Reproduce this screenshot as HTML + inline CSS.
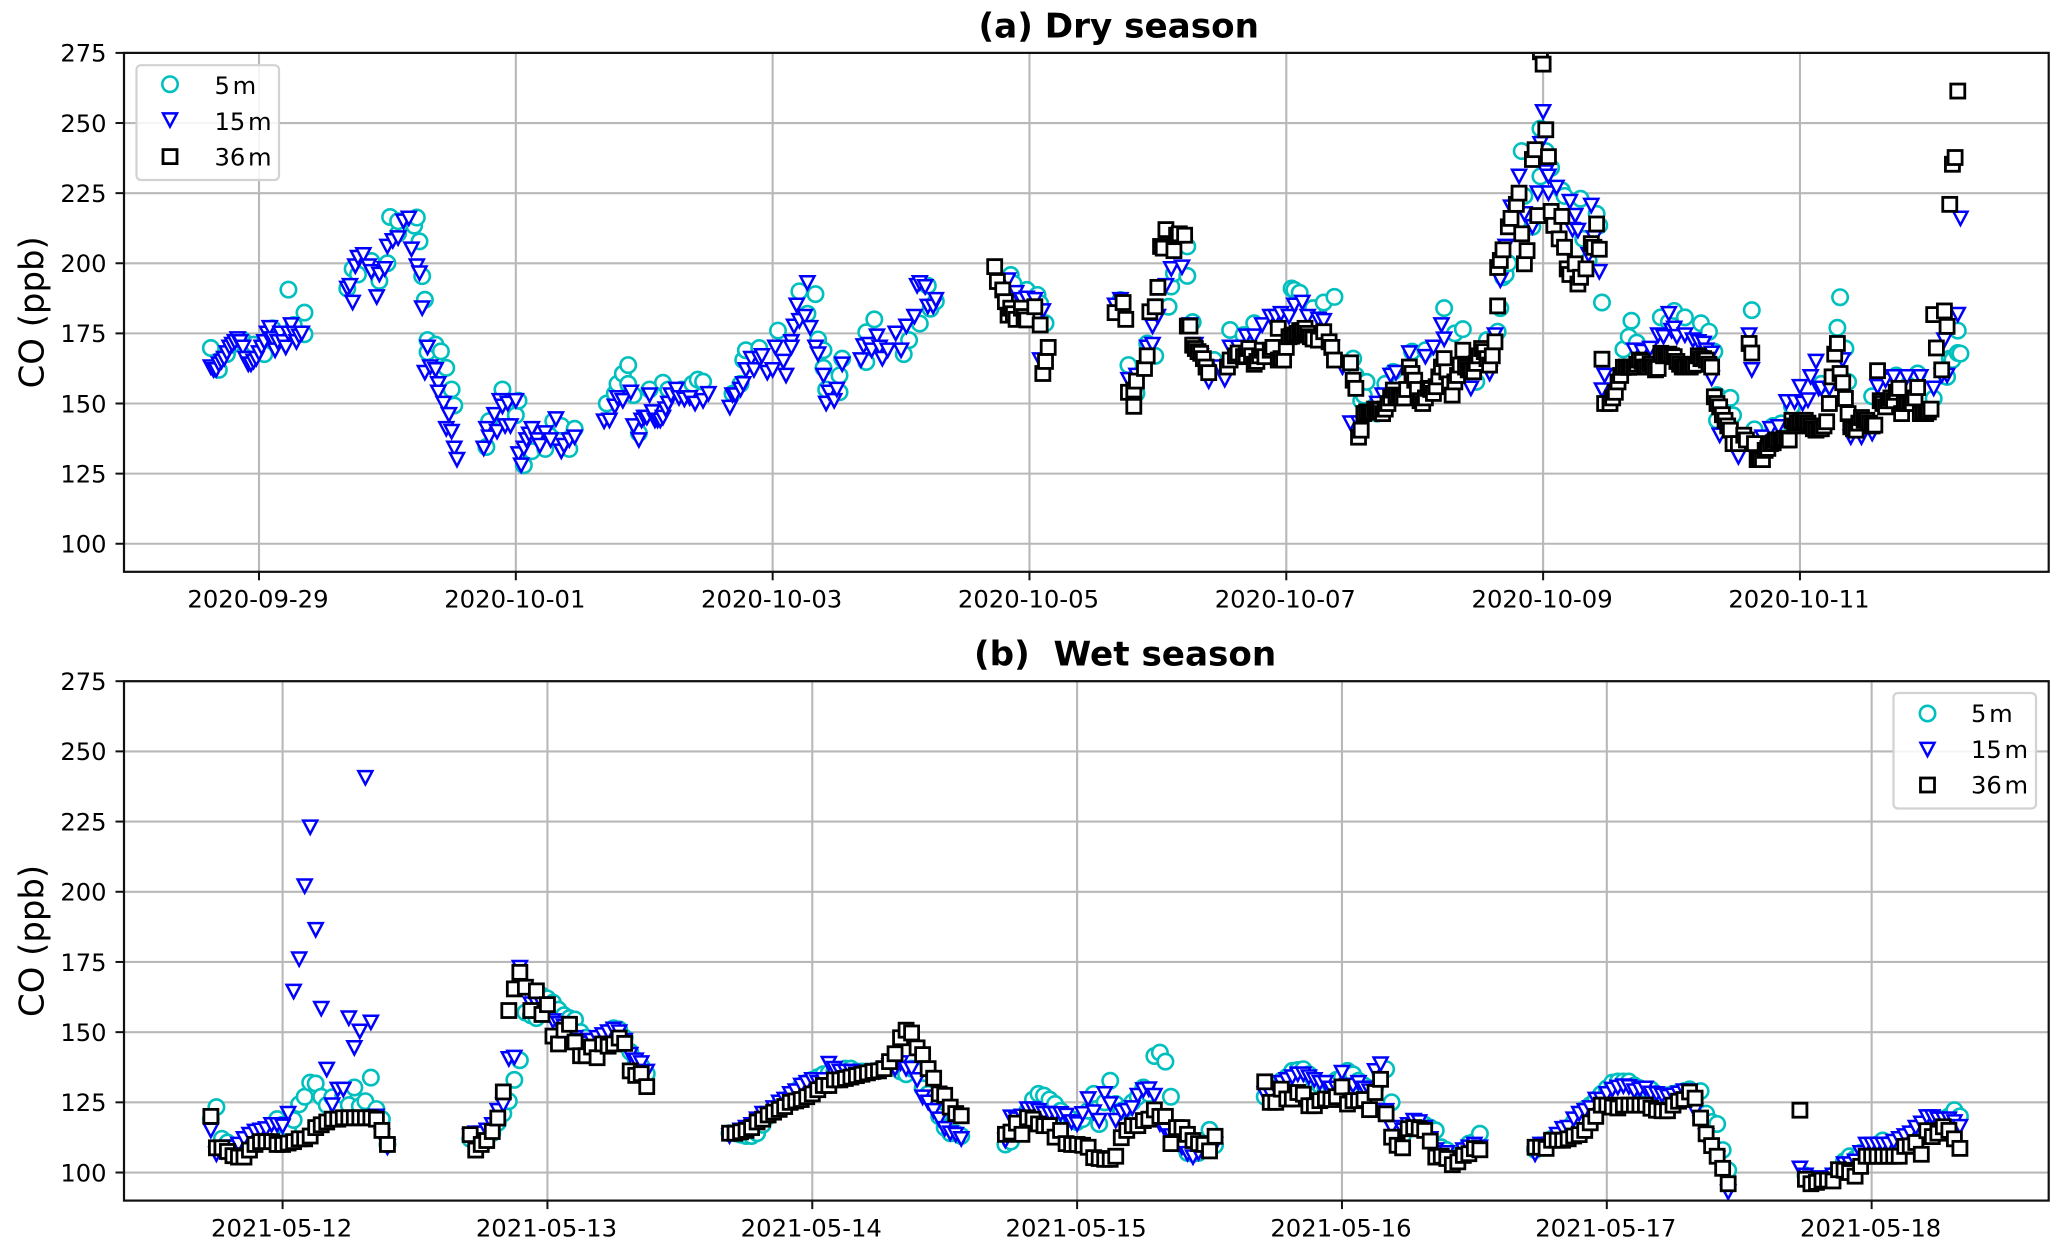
<!DOCTYPE html>
<html lang="en">
<head>
<meta charset="utf-8">
<title>CO at three heights: dry and wet season</title>
<style>
html,body{margin:0;padding:0;background:#fff;width:2067px;height:1248px;overflow:hidden}
svg{display:block}
text{font-family:"DejaVu Sans","Liberation Sans",sans-serif;fill:#000}
</style>
</head>
<body>
<svg id="chart" xmlns="http://www.w3.org/2000/svg" width="2067" height="1248" viewBox="0 0 2067 1248">
<defs>
<clipPath id="clip-dry"><rect x="124" y="52.9" width="1924.7" height="518.9"/></clipPath>
<clipPath id="clip-wet"><rect x="124" y="681.2" width="1924.7" height="519.4"/></clipPath>
</defs>
<g id="panel-dry"></g>
<g id="panel-wet"></g>
</svg>
<script>
// ---------- shared axis data ----------
const yTickValues = [100,125,150,175,200,225,250,275];
const yMin = 90;
const yMax = 275;

// ---------- dry season: hours after 2020-09-29 00:00 and CO (ppb) ----------
const dryTickHours = [0,48,96,144,192,240,288];
const dryTickLabels = ['2020-09-29','2020-10-01','2020-10-03','2020-10-05','2020-10-07','2020-10-09','2020-10-11'];

const dry5Hours = [
-9,-7.5,-6,-5,-3,-1,1,2.5,4,5.5,6.5,8.5,8.5,
16.5,17.5,18.5,21,22.5,24,24.5,26,26,29,29.5,30,30.5,31,31.5,33,34,35,36,36.5,31.5,34,
42.5,43,45.5,46,48,48.5,49.5,51,53.5,55,56.5,59,58,
65,66.5,67,68,69,69,70,71,73,75.5,76.5,79,81,82,83,88.5,90,90.5,91,93.5,97,101,104,102.5,104.5,105.5,105.5,106,108.5,109,108.5,113.5,113.5,115,120.5,121.5,123.5,125,126.5,125.5,
140.5,141,143.5,145.5,147,146,
161,162.5,164,166,167.5,170,170.5,171,173.5,173.5,
174.5,178.5,181.5,184,186,193,193.5,194.5,197,199,201,204.5,205,206.5,207,206,209,210.5,212,215.5,218,221.5,223.5,225,227.5,229.5,231.5,232,233,
236,239.5,241.5,239.5,240.5,236.5,244,247,250,250.5,247.5,248.5,232.5,233.5,238,243.5,251,
255,256,256.5,257.5,262,264.5,266.5,263.5,269.5,271,272,272.5,275,275.5,272.5,279.5,279,295.5,295,296.5,297,301.5,306,310,313,315.5,316.5,317.5,284.5,283,292,286.5,
318,317.5,316
];
const dry5Values = [
169.8,162,167.6,171,172.6,171,167.6,176.8,174,190.6,178,182.4,174.7,
191,198,196,200.8,193.7,200,216.5,210.6,215,213.4,216.3,207.8,195.4,187,172.6,171,168.6,162.7,155,149.3,168.3,162,
134.5,143.7,155,145.8,145.8,151,128,133,133.8,143.7,142,141,133.8,
150,153.5,157,160.6,163.7,157,153,139.5,155,157.4,155,155,157,158.5,157.8,153.5,157,165.5,169,169.8,176,190,189,182,172.8,169,162.7,155,154,166,160,164.8,175.4,180,167.6,172.6,178.5,192,186.4,183.8,
195.8,192.8,190.5,188.7,178.6,185.7,
186.9,163.7,153.6,171.4,167,184.5,191.7,196.4,195.5,206,
179,165.5,176.2,174.4,178.6,191,190.5,189.5,184,186,188,166,160,152.8,157.7,151,146.4,157,161.3,168.5,169,184,175,176.5,157.7,172.6,175.6,184,196,
240,248,234,231,240,224,224,223,217.6,213.5,208.7,201,195,200,213,226,186,
169.3,173.8,179.5,171.7,180.7,183,180.7,179,178.6,175.6,168.5,153,152,145.8,144,140.8,183.3,187.9,177,169.6,157.7,152.6,160,160.7,151.8,159.5,165.5,168,142.9,142,157,149,
167.8,176,166
];

const dry15Hours = [
-9,-8,-7,-6,-5,-4,-3,-2,-1,0,1,2,3,4,5,6,7,8,
-8.5,-7.5,-6.5,-5.5,-4.5,-3.5,-2.5,-1.5,-0.5,0.5,1.5,2.5,3.5,4.5,5.5,6.5,7.5,
16.5,17,17.5,18,18.5,19.5,20.5,21,22,22.5,23.5,24,25,26,27,28,28.5,29.5,30,30.5,31.5,31,32,33,33.5,33.5,34.5,35.5,35,36,36.5,37,
42,42.5,43,44,44.5,45,45.5,46,46.5,47,48,48.5,49,49.5,50,50.5,51,52,52.5,53.5,54.5,55.5,56.5,57,58,59,
64.5,65.5,66.5,67,68,69.5,70,71,71.5,72,73,74,75,76,77,78,78.5,79.5,80.5,81.5,83,84,
72.5,73.5,74.5,75.5,76.5,
88,88.5,89,90,90.5,91,92,92.5,93.5,94,95,96,96.5,98,98.5,99.5,99.5,100,100.5,101,102,102.5,103,104,104.5,105.5,106,106.5,107.5,108,109,112.5,113,114,114.5,115.5,116,116.5,117.5,119,120,121,122.5,123,123.5,124.5,125,126,126.5,
140,141.5,142.5,143.5,145,146.5,146,
160,161,162.5,164,166,167,168,169.5,170.5,172.5,167,
174,175,176,177.5,179.5,180.5,181.5,183,184.5,186,187.5,189,190,191,192.5,193.5,195,196,198,199,200.5,202.5,204,205.5,207,209,210,211.5,212.5,215,216.5,218,219.5,221,221.5,226.5,230,231,
232,233,234,235.5,236.5,238,239,239.5,240,240.5,241,241,242.5,245,246,245.5,246.5,249,248.5,250.5,249.5,
251.5,251,257,258.5,260,261.5,262.5,263.5,264,264.5,265,266.5,268,269,270,270.5,271.5,271.5,276.5,273,281,282.5,284,285.5,287,288,288.5,289.5,290,291,291.5,292,293.5,296,297.5,299.5,301.5,302.5,304,305.5,308,310.5,313,278.5,279,
315,315.5,317.5,318,314.5
];
const dry15Values = [
163,162,165,168,171,173,170,164,165,168,172,177,169,175,170,178,172,175,
162,164,166,170,172,172,166,164,166,170,175,173,172,172,175,175,174,
191,192,186,199,202,203,199,197,188,196,198,206,208,209,215,216,205,199,196.5,184,170,161,163,162,157,154,150,146,141,140,134,130,
134,141,138,146,140,151,149,142,150,142,151,132,128,134,137,139,141,137,135,139.5,137,144.5,133,135,137,138,
143.7,144,149,152,151,154,142,137,144,145,153,144,144,148,153,155,152,151.5,152,150,151,153.5,
145,147,144,145,150,
148.6,153,153,155,157,162,166,162,166,167,161,162,170,165,160,172,170,177.5,185,179.5,181,193,177,170,167.6,160,150,154,151,155,164,165.5,170.5,171,169,174,170,166,169,175,169,177.5,181,192,193,191.6,184.6,184.6,187,
194,189.5,187,187.5,187,183,165.5,
185,187,158.5,160,170,177.5,181,192,198,198.6,171,
178,171,167,158,163,158.5,170,170,174,174,178,181,181,182,181,185,186,181,180,179.5,170,163,143,143,146,150,153,160,161,168,155,166.7,170,178,172.9,155.4,160.7,174.4,
194,206,220,231,217.6,213,225,242.6,254,232.5,231,225,227,222,217,212,211.7,220.6,203,197,209,
160,154.8,169,168.5,169.6,174.4,173.8,182,176,176.8,173.8,174.4,172.6,172,171.4,169,167.9,159,131,138.7,138,141,141.7,150.6,150.6,156,150,151.2,159.5,165,155.4,155.4,155.4,165.5,138,138,139.3,156,158.3,159.5,159.5,159.5,155.4,174.4,162,
172.6,160,181.7,216,160
];

const dry36Hours = [
137.5,138,139,139.5,140.5,140,141,141.5,142.5,143,143.5,145,146,147.5,147,146.5,
160,161.5,162,166.5,167.5,168,162.5,164,163.5,165.5,166,163.5,169,169.5,168.5,171,171.5,172,173,
173.5,174,174.5,175,176,176.5,177.5,181,181.5,182.5,183,184,185,186,187.5,188,189,190.5,190.5,191.5,192.5,193.5,194.5,195.5,196.5,198,
175.5,177,184.5,185.5,186.5,187,189.5,191,192,193,194,195,196,197,
199,200,200.5,201,204,204.5,205,206,205.5,206.5,208,209,210,212,213,214,215,215.5,216,217,217.5,218.5,219.5,220.5,221.5,222,223,223.5,224.5,225,225.5,227,227.5,228.5,229,230,230.5,231,
207,207.5,208.5,209.5,210.5,211,211.5,
212.5,213.5,214.5,216.5,218,219,220,221,222.5,224,226,226.5,228,229.5,
231.5,231.5,232,232.5,233.5,234,235,235.5,236,236.5,237,238,238.5,239,239.5,240,240.5,241,241.5,242,243,243.5,244,244.5,245,246,246.5,247,248,249,249.5,250,250.5,
251,251.5,252.5,253.5,254,255,256,256.5,258,259,260,261.5,262,263.5,264.5,266,267,268,269,270.5,271.5,
253,254.5,255.5,257,257.5,258.5,259.5,260.5,261,262.5,263,264,265,265.5,266.5,267.5,268.5,269.5,270,271,
272,273,274,275,275.5,276.5,277.5,278,279.5,278.5,279,
272.5,273.5,274.5,
280,281,281.5,282.5,283.5,285,286,286.5,288,289,291,293,293.5,294,294.5,295,295.5,296,296.5,297,297.5,298.5,299.5,300.5,302,302.5,303,304,304.5,305.5,306.5,307,307.5,309,310,310.5,311.5,312.5,
280.5,282,283,284,284.5,285.5,287,287.5,288.5,289.5,290,290.5,291.5,292,292.5,298,299,300,301,301.5,303.5,305,306,308,308.5,309.5,311,312,
313.5,314.5,313,315,315.5,316,316.5,317,317.5
];
const dry36Values = [
198.8,193.5,190.5,186.3,184,181.5,182,180,184,181,179.8,184.5,178,170,165,160.7,
182.4,186,180,182.7,184.5,191.4,154,158,154.8,162.5,167,149,205.4,212,206,204.5,210,210.5,210,
177.6,177.6,170.8,169.6,167.9,166,161,163,165.5,167,168,166.7,169.6,164,169,166.7,169,176.8,165.5,165.5,173.8,174.4,176,176.8,173.8,172.6,
168.5,163,167,167,165,167,170,166,170,174,175,176,175,173,
175.6,172,170,165.5,164.5,158.3,155.4,140.5,138,146.4,147,147.6,146.4,154.8,152.4,152,163,160.7,158.3,151,150,155.4,153.6,159.5,166,161.3,153,157.7,163.7,169,163,161.3,164.3,169.6,168.5,163.7,167,172,
147,147,148,147.6,148,150,152,
153,152,155,155,152,155,156,163,157,160,162,162,167,166,
184.8,198.5,201,204.8,213,216,221,225,210.5,199.8,204.5,237,240.5,217,275.4,271,247.6,238,218.5,213.5,208.7,216.7,205.7,198,196,199.8,192.6,195,198,207,205.7,214,205,
165.8,150,150,154,157.7,162.9,162.9,163,165.5,163,164,162.5,167.9,167.6,166.7,163,163,163.7,167,165.5,163,
152,160,163,163,164,165,163,163,162,167,167.5,167,165,164,163,163,164,166,166,164,
152.4,148.8,144,140.5,135.7,135.7,138.7,137,135.7,171.4,168,
150,146,142,
130,130,133.3,135.7,137,137.5,137,144,143.5,144,140.5,143.5,150,159.5,167.6,171.4,160.7,157.4,151.8,146.4,141.7,140.5,145,144,142.3,161.7,151,148.8,151,151,155.4,146.4,150,150,155.7,146.4,146.4,148,
130,134,136,137,137,137,142,143,144,143,142,141,141,141,142,141,143,144,143,142,150,152,154,150,150,152,147,147,
169.8,162,181.7,183,177.5,221,235.3,237.7,261.4
];

// ---------- wet season: half-hourly runs, hours after 2021-05-12 00:00 ----------
const wetTickHours = [0,24,48,72,96,120,144];
const wetTickLabels = ['2021-05-12','2021-05-13','2021-05-14','2021-05-15','2021-05-16','2021-05-17','2021-05-18'];
const wetRunStarts = [-6.5,17,40.5,65.5,89,113.5,137.5];
const wetRunCounts = [33,33,43,39,40,36,30];
const wet5RunStarts = [-6.5,17,40.5,65.5,89,113.5,138];
const wet5RunCounts = [33,33,43,39,40,36,29];

const wet5Values = [
119,123.3,112,110.7,109,108,108,110,111,112,113,115,119,117,116,118.7,124.3,127,132,131.7,127,124,126.8,123.3,127.5,124,130.3,123.6,125.4,133.8,122.6,119,110,
112,112,112,113,114,117.7,121,125.4,133,140,157,156,155,163,162,160.5,158,156,155,154.5,150,148,146,147,148,150,151.4,151,148,143,140,138,135.2,
114,114,113.5,113,113,114,117,120,122,124,125,127,129,131,132,133,134,135,135.5,136,136.5,137,137,136,136,136,136,136.5,137,138,139,136,135,137,136,130,128,125,120,116,114,114,113,
110,111,115,118,122,126,128,127.4,126,124.4,122,120,119,118,119,122,128,117.3,125,132.7,124.4,122,123,125,127,130.3,128,141.5,142.7,139.5,127,112,110,107,106.7,107,108,115.2,109.7,
127,128,130,132.7,134,136.2,136.5,136.8,135,132.7,131,130,131,133,134,136.2,135,132.7,131,130,130,135,136.8,125,112,113,116,117,117,117,116,115,109,108,106,106,108,110.3,111,113.8,
108,109,110,112,113,114,116,118,120,122.6,124,126,128,130,132,132.4,132.4,132.4,131,130,129.6,129.6,128,127,127.5,128,128.5,129,129.6,128,129,121,118,117.3,108,100.8,
99,98,97,97,98,99,101,104,105.8,105,107,108,109,110,111.4,110,110,111,112,113,115,116,117,118,118,119,120,122.2,120
];
const wet15Values = [
115,106.5,107.5,109,109,110,112,113.5,114.6,115,115.5,117,117,116.5,121,164.5,176,202,223,186.5,158.4,136.7,124,129.6,129.6,155,144.4,150.3,240.6,153.5,120,113,109,
113,114,114,115,117,122,124,140.5,141,173,166,160,160,160,158,154,153,152,150,148,147,146,147,148,149,150,151,150,147,142,140,139,136,
113,114,115,116,117,119,121,121,123,125,126,128,129,131,132,133,132,133,138.8,137,136,136,136,135,135,135.5,136,136,137,138,137,139,137,137,133,126.8,125,122,119,115.6,114,113.5,112,
111.4,119.7,119,120,122.6,122.6,122,121,121,120.9,120.9,120.3,118,117.3,120.9,126.2,121.5,118.5,128,124.4,118.5,121.5,122,123,127.4,129.4,129.7,127.4,117.3,115,113,112,109,106.7,105.5,107,108,109,110,
128,128,130,132,133,134,135,135,134,133,132,132,130,130,135.6,131,131,132,130,129,136.2,138.6,122,116,112,115,117,118.5,118,116,112,108,107,107,104,105,108,109,110,109,
106.5,110,110,111,113.5,115.6,116,119,121,122,123,126,126,128,129.6,130.3,130.8,130.5,129,129.6,130,128.2,128,127.5,127,127.5,128.2,129,129,122,117.7,113,108,105,101,93,
101.5,99,98,97,98,98,99,101,103,103,104,107,110,110,110,110,110,111,112,113,114,116,117.5,119.8,119.8,119,119,119,118,116.3
];
const wet36Values = [
120,108.8,108.8,107.5,106,105.5,105.5,108,110,111,111,111,110,110,110.5,111,112,112,113,116,117,118,119,119,119.5,119.5,119.5,119.5,119.5,119.5,119,115,110,
113.5,108,110,111.4,114.6,119.4,128.7,157.7,165.4,171.3,166,157.7,164.7,156.3,159.8,148.6,145.8,150.7,152.8,146.5,141.6,141.6,144.7,140.9,145.8,145,145.8,147.9,146,136.2,134.6,135.2,130.6,
114,114,114.5,115,116,118,119,120.5,121.5,122.5,123.5,125,125.5,126,127,128,129.5,131,131,133,133,133.5,134,134.5,135,135.5,136,136.2,137,139.5,142.3,148,150.7,149.7,144.4,142,137,133.6,128,127.5,123.3,121,120.2,
113.6,114.4,117.6,113.6,119.5,119,117.3,116.7,116.7,112.6,115,110.3,110,110,109.7,109,105.3,105,104.7,104.7,105.8,112.4,115,116.7,116.7,118.5,119,122.3,120,120,110.3,116,116,113.6,111.4,110.3,110,107.7,112.9,
132.3,125,125,129.7,126.2,126.2,128.5,127.9,123.8,123.8,125.6,126.2,126,127,130.5,124.4,125.6,125.6,126,122.4,128.5,133.2,120.9,112.6,109.7,108.8,115.6,116,115.6,115,111.2,105.5,105.8,105,102.8,103.8,106.1,106.7,108.5,108.1,
109,109,108.6,111.5,111.5,111.5,112,113,113.5,115,117.7,120,124,124,123.3,123,124,124,124,124,124,122.9,122.2,122,122,124,125.4,126,128.7,126.5,119.4,113.8,109.6,105.8,101.5,96,
122.2,97.6,96,96.5,97.3,97.3,97,101,100.8,100,98.7,102.2,105.8,105.8,105.8,105.8,105.8,105.8,105.8,109.3,109.5,110.7,106.5,114.9,112.8,114,116.3,115,112,108.6
];

// ---------- series appearance ----------
const legendLabels = ['5 m','15 m','36 m'];
const SVGNS = 'http://www.w3.org/2000/svg';
const CYAN = '#00bfbf';
const BLUE = '#0000ff';
const BLACK = '#000000';

function make(tag, attrs, parent) {
  const el = document.createElementNS(SVGNS, tag);
  for (const k in attrs) el.setAttribute(k, attrs[k]);
  parent.appendChild(el);
  return el;
}

function runsToHours(starts, counts) {
  const out = [];
  starts.forEach(function (s, i) {
    for (let n = 0; n < counts[i]; n++) out.push(s + n * 0.5);
  });
  return out;
}

function drawMarker(kind, cx, cy, parent) {
  let el;
  if (kind === 'circle') {
    el = make('circle', {cx: cx, cy: cy, r: 7.7, fill: '#fff', stroke: CYAN, 'stroke-width': 2.6}, parent);
    
  } else if (kind === 'tri') {
    el = make('polygon', {points: (cx-7)+','+(cy-6.6)+' '+(cx+7)+','+(cy-6.6)+' '+cx+','+(cy+6.6), fill: '#fff', stroke: BLUE, 'stroke-width': 2.5}, parent);
    
  } else {
    el = make('rect', {x: cx-7, y: cy-7, width: 14, height: 14, fill: '#fff', stroke: BLACK, 'stroke-width': 2.8}, parent);
    
  }
  
  return el;
}

function drawPanel(cfg) {
  const root = document.getElementById(cfg.rootId);
  const L = 124, R = 2048.7, T = cfg.top, B = cfg.bottom;
  const xScale = function (h) { return cfg.x0 + h * cfg.pxPerHour; };
  const yScale = function (v) { return B - (v - yMin) * (B - T) / (yMax - yMin); };

  // grid
  const grid = make('g', {}, root);
  
  
  yTickValues.forEach(function (v) {
    const line = make('line', {x1: L, x2: R, y1: yScale(v), y2: yScale(v), stroke: '#b8b8b8', 'stroke-width': 2.1}, grid);
    
    
  });
  cfg.tickHours.forEach(function (h) {
    const line = make('line', {x1: xScale(h), x2: xScale(h), y1: T, y2: B, stroke: '#b8b8b8', 'stroke-width': 2.1}, grid);
    
    
  });

  // series
  const plot = make('g', {'clip-path': 'url(#' + cfg.clip + ')'}, root);
  
  
  cfg.series.forEach(function (s) {
    const g = make('g', {}, plot);
    
    
    const n = Math.min(s.hours.length, s.values.length);
    const order = [];
    for (let i = 0; i < n; i++) order.push(i);
    order.sort(function (a, b) { return s.hours[a] - s.hours[b]; });
    order.forEach(function (i) {
      drawMarker(s.kind, xScale(s.hours[i]), yScale(s.values[i]), g);
    });
  });

  // spines
  const frame = make('rect', {x: L, y: T, width: R - L, height: B - T, fill: 'none', stroke: '#111', 'stroke-width': 2.2}, root);
  
  

  // y ticks
  const yAxis = make('g', {}, root);
  
  
  yTickValues.forEach(function (v) {
    const y = yScale(v);
    const tick = make('line', {x1: L - 8.5, x2: L, y1: y, y2: y, stroke: '#111', 'stroke-width': 2}, yAxis);
    
    
    const t = make('text', {x: L - 17.5, y: y + 8.8, 'text-anchor': 'end', 'font-size': 24.2}, yAxis);
    t.textContent = String(v);
    
    
  });
  const yt = make('text', {x: 0, y: 0, 'text-anchor': 'middle', 'font-size': 33.9, transform: 'translate(43.5,' + ((T + B) / 2) + ') rotate(-90)'}, yAxis);
  yt.textContent = 'CO (ppb)';
  
  

  // x ticks
  const xAxis = make('g', {}, root);
  
  
  cfg.tickHours.forEach(function (h, i) {
    const x = xScale(h);
    const tick = make('line', {x1: x, x2: x, y1: B, y2: B + 8.5, stroke: '#111', 'stroke-width': 2}, xAxis);
    
    
    const t = make('text', {x: x - 1, y: B + 35.8, 'text-anchor': 'middle', 'font-size': 24.3}, xAxis);
    t.textContent = cfg.tickLabels[i];
    
    
  });

  // title
  const title = make('text', {x: cfg.titleX, y: cfg.titleY, 'font-size': 34.2, 'font-weight': 700, style: 'white-space:pre'}, root);
  title.textContent = cfg.title;
  
  

  // legend
  const lg = make('g', {}, root);
  
  
  const box = make('rect', {x: cfg.legend.x, y: cfg.legend.y, width: cfg.legend.w, height: cfg.legend.h, rx: 4.5, fill: '#fff', 'fill-opacity': 0.85, stroke: '#d2d2d2', 'stroke-width': 2.2}, lg);
  
  
  ['circle','tri','square'].forEach(function (kind, i) {
    const entry = make('g', {}, lg);
    
    
    drawMarker(kind, cfg.legend.markerX, cfg.legend.markerY[i], entry);
    const t = make('text', {x: cfg.legend.textX, y: cfg.legend.textY[i], 'font-size': 24.2, 'word-spacing': '-5px'}, entry);
    t.textContent = legendLabels[i];
    
    
  });
}

drawPanel({
  rootId: 'panel-dry', clip: 'clip-dry', top: 52.9, bottom: 571.8,
  x0: 259, pxPerHour: 5.3505,
  tickHours: dryTickHours, tickLabels: dryTickLabels,
  title: '(a) Dry season', titleX: 978.5, titleY: 37.5,
  legend: {x: 136.5, y: 65.2, w: 142.5, h: 114.8, markerX: 170, markerY: [84.2,120,156.6], textX: 214.5, textY: [93.8,129.8,165.6]},
  series: [
    {name: 'series-5m', kind: 'circle', hours: dry5Hours, values: dry5Values},
    {name: 'series-15m', kind: 'tri', hours: dry15Hours, values: dry15Values},
    {name: 'series-36m', kind: 'square', hours: dry36Hours, values: dry36Values}
  ]
});

drawPanel({
  rootId: 'panel-wet', clip: 'clip-wet', top: 681.2, bottom: 1200.6,
  x0: 282.6, pxPerHour: 11.035,
  tickHours: wetTickHours, tickLabels: wetTickLabels,
  title: '(b)  Wet season', titleX: 974, titleY: 665.5,
  legend: {x: 1893.5, y: 693, w: 142.5, h: 115.5, markerX: 1927.5, markerY: [713.5,749.5,785], textX: 1971, textY: [721.8,757.8,793.6]},
  series: [
    {name: 'series-5m', kind: 'circle', hours: runsToHours(wet5RunStarts, wet5RunCounts), values: wet5Values},
    {name: 'series-15m', kind: 'tri', hours: runsToHours(wetRunStarts, wetRunCounts), values: wet15Values},
    {name: 'series-36m', kind: 'square', hours: runsToHours(wetRunStarts, wetRunCounts), values: wet36Values}
  ]
});
</script>
</body>
</html>
